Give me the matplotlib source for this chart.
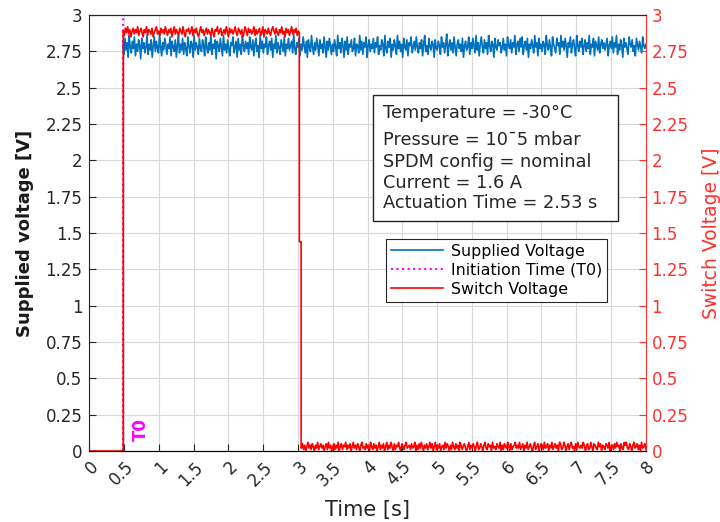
import numpy as np
import matplotlib
matplotlib.use("Agg")
import matplotlib.pyplot as plt
from matplotlib.patches import Rectangle

# ---- data ----
t0 = 0.478
sw_drop_t = 3.02
sw_mid_value = 1.44
sw_low_t = 3.05

supplied = [
2.79,2.73,2.84,2.76,2.81,2.71,2.86,2.78,2.74,2.82,2.77,2.85,2.72,2.80,2.75,2.83,2.79,2.70,2.84,2.77,
2.81,2.74,2.78,2.86,2.73,2.80,2.76,2.83,2.71,2.79,2.85,2.75,2.82,2.77,2.74,2.87,2.78,2.72,2.81,2.76,
2.84,2.79,2.73,2.80,2.77,2.85,2.72,2.82,2.78,2.75,2.83,2.71,2.79,2.86,2.74,2.80,2.76,2.84,2.73,2.81,
2.77,2.72,2.85,2.79,2.74,2.82,2.80,2.71,2.86,2.76,2.81,2.78,2.73,2.84,2.77,2.75,2.83,2.79,2.72,2.85,
2.78,2.74,2.81,2.76,2.87,2.73,2.80,2.77,2.83,2.70,2.82,2.79,2.75,2.84,2.78,2.72,2.86,2.76,2.80,2.74,
2.83,2.77,2.72,2.81,2.79,2.85,2.74,2.78,2.82,2.71,2.84,2.76,2.80,2.73,2.86,2.79,2.75,2.82,2.77,2.81,
2.73,2.85,2.78,2.76,2.83,2.72,2.80,2.84,2.75,2.79,2.71,2.86,2.77,2.82,2.74,2.80,2.78,2.85,2.73,2.79,
2.82,2.76,2.84,2.71,2.80,2.77,2.86,2.74,2.81,2.78,2.73,2.83,2.79,2.75,2.85,2.72,2.80,2.77,2.84,2.76,
2.79,2.82,2.74,2.87,2.77,2.73,2.81,2.78,2.84,2.72,2.80,2.76,2.85,2.79,2.74,2.82,2.71,2.83,2.78,2.75,
2.86,2.78,2.73,2.81,2.76,2.84,2.79,2.72,2.83,2.77,2.80,2.74,2.85,2.78,2.71,2.82,2.76,2.84,2.79,2.73,
2.80,2.75,2.83,2.78,2.72,2.86,2.77,2.81,2.74,2.84,2.79,2.71,2.82,2.76,2.85,2.73,2.80,2.78,2.83,2.75,
2.77,2.84,2.72,2.80,2.79,2.74,2.86,2.76,2.82,2.73,2.81,2.78,2.85,2.71,2.79,2.83,2.75,2.80,2.77,2.84,
2.74,2.81,2.78,2.85,2.73,2.79,2.76,2.83,2.80,2.72,2.86,2.77,2.74,2.82,2.78,2.84,2.71,2.80,2.76,2.83,
2.79,2.73,2.86,2.77,2.82,2.75,2.80,2.71,2.84,2.78,2.76,2.83,2.72,2.81,2.79,2.85,2.74,2.78,2.82,2.76,
2.85,2.78,2.74,2.81,2.77,2.83,2.72,2.80,2.86,2.75,2.79,2.73,2.84,2.78,2.76,2.82,2.80,2.71,2.83,2.77,
2.76,2.82,2.79,2.73,2.85,2.78,2.81,2.74,2.80,2.87,2.72,2.79,2.83,2.76,2.81,2.74,2.85,2.78,2.72,2.80,
2.83,2.77,2.80,2.75,2.84,2.71,2.79,2.82,2.76,2.78,2.85,2.73,2.81,2.77,2.84,2.79,2.74,2.86,2.76,2.81,
2.72,2.80,2.85,2.78,2.74,2.83,2.77,2.81,2.73,2.86,2.79,2.75,2.82,2.80,2.71,2.84,2.78,2.76,2.83,2.79,
2.81,2.74,2.78,2.84,2.76,2.80,2.72,2.85,2.79,2.77,2.83,2.74,2.81,2.78,2.86,2.73,2.80,2.82,2.75,2.84,
2.78,2.85,2.73,2.79,2.82,2.76,2.84,2.71,2.80,2.77,2.83,2.79,2.74,2.86,2.78,2.81,2.72,2.84,2.77,2.80,
2.75,2.82,2.80,2.73,2.86,2.79,2.76,2.83,2.78,2.72,2.85,2.80,2.77,2.74,2.84,2.79,2.81,2.73,2.86,2.78,
2.82,2.76,2.84,2.79,2.71,2.81,2.78,2.85,2.74,2.80,2.83,2.77,2.72,2.86,2.79,2.75,2.82,2.78,2.84,2.73,
2.79,2.83,2.75,2.81,2.77,2.86,2.73,2.80,2.78,2.84,2.72,2.82,2.79,2.76,2.85,2.74,2.80,2.83,2.77,2.81,
2.76,2.80,2.84,2.72,2.79,2.82,2.77,2.85,2.74,2.81,2.78,2.86,2.73,2.80,2.76,2.83,2.79,2.71,2.84,2.78,
2.81,2.77,2.73,2.85,2.80,2.78,2.83,2.75,2.79,2.72,2.84,2.80,2.76,2.82,2.78,2.74,2.85,2.79,2.77,2.80,
]

switch_high = [
2.89,2.86,2.91,2.88,2.92,2.87,2.90,2.85,2.89,2.91,2.87,2.90,2.88,2.92,2.86,2.89,2.91,2.88,2.85,2.90,
2.88,2.92,2.86,2.90,2.89,2.87,2.91,2.85,2.88,2.90,2.92,2.87,2.89,2.86,2.91,2.88,2.90,2.87,2.92,2.89,
2.86,2.90,2.88,2.91,2.85,2.89,2.92,2.87,2.90,2.88,2.86,2.91,2.89,2.87,2.92,2.88,2.85,2.90,2.89,2.91,
2.87,2.89,2.92,2.86,2.90,2.88,2.91,2.87,2.85,2.89,2.92,2.88,2.90,2.86,2.89,2.91,2.87,2.90,2.88,2.86,
2.91,2.88,2.85,2.90,2.89,2.92,2.87,2.89,2.91,2.86,2.88,2.90,2.87,2.92,2.89,2.85,2.91,2.88,2.90,2.87,
2.89,2.92,2.88,2.86,2.91,2.89,2.87,2.90,2.85,2.88,2.92,2.89,2.86,2.91,2.88,2.90,2.87,2.89,2.92,2.86,
2.90,2.87,2.89,2.91,2.86,2.88,2.92,2.85,2.90,2.89,2.87,2.91,2.88,2.86,2.90,2.92,2.89,2.87,2.91,2.88,
2.86,2.90,2.88,2.92,2.87,2.89,2.85,2.91,2.88,2.90,2.86,2.89,2.92,2.87,2.90,2.88,2.91,2.86,2.89,2.88,
]

switch_low = [
0.02,0.05,0.01,0.04,0.00,0.03,0.06,0.02,0.04,0.01,0.05,0.03,0.00,0.04,0.02,0.06,0.01,0.03,0.05,0.02,
0.04,0.00,0.03,0.05,0.01,0.06,0.02,0.04,0.00,0.03,0.05,0.01,0.04,0.02,0.06,0.00,0.03,0.05,0.01,0.04,
0.03,0.06,0.01,0.04,0.02,0.05,0.00,0.03,0.06,0.02,0.04,0.01,0.05,0.03,0.00,0.04,0.06,0.02,0.03,0.01,
0.05,0.02,0.04,0.00,0.06,0.03,0.01,0.05,0.02,0.04,0.00,0.03,0.06,0.01,0.04,0.02,0.05,0.00,0.03,0.06,
0.01,0.04,0.02,0.06,0.03,0.00,0.05,0.01,0.04,0.03,0.06,0.02,0.00,0.05,0.03,0.01,0.04,0.06,0.02,0.03,
0.04,0.01,0.05,0.02,0.03,0.06,0.00,0.04,0.01,0.05,0.02,0.06,0.03,0.00,0.04,0.02,0.05,0.01,0.03,0.06,
0.02,0.05,0.00,0.03,0.06,0.01,0.04,0.02,0.05,0.00,0.03,0.04,0.01,0.06,0.02,0.05,0.03,0.00,0.04,0.01,
0.06,0.03,0.01,0.05,0.02,0.04,0.00,0.06,0.03,0.01,0.04,0.05,0.02,0.00,0.03,0.06,0.01,0.04,0.02,0.05,
0.03,0.00,0.04,0.06,0.01,0.02,0.05,0.03,0.00,0.04,0.06,0.02,0.01,0.05,0.03,0.04,0.00,0.06,0.02,0.03,
0.01,0.05,0.03,0.02,0.06,0.00,0.04,0.01,0.05,0.03,0.02,0.06,0.04,0.00,0.05,0.01,0.03,0.04,0.06,0.02,
0.04,0.02,0.06,0.01,0.03,0.05,0.00,0.04,0.02,0.06,0.01,0.03,0.05,0.02,0.00,0.04,0.06,0.01,0.03,0.05,
0.00,0.03,0.05,0.04,0.01,0.06,0.02,0.03,0.05,0.00,0.04,0.02,0.06,0.01,0.03,0.05,0.02,0.04,0.00,0.06,
0.05,0.01,0.02,0.06,0.04,0.00,0.03,0.05,0.01,0.04,0.06,0.02,0.03,0.00,0.05,0.01,0.06,0.03,0.02,0.04,
0.02,0.06,0.04,0.00,0.03,0.05,0.01,0.02,0.06,0.03,0.00,0.05,0.04,0.02,0.01,0.06,0.03,0.05,0.00,0.04,
0.03,0.01,0.05,0.04,0.02,0.06,0.00,0.03,0.04,0.01,0.05,0.02,0.06,0.03,0.04,0.00,0.05,0.02,0.01,0.06,
0.04,0.06,0.02,0.01,0.05,0.03,0.00,0.04,0.06,0.02,0.03,0.05,0.01,0.04,0.00,0.06,0.02,0.03,0.05,0.01,
]

x_ticks = [0, 0.5, 1, 1.5, 2, 2.5, 3, 3.5, 4, 4.5, 5, 5.5, 6, 6.5, 7, 7.5, 8]
y_ticks = [0, 0.25, 0.5, 0.75, 1, 1.25, 1.5, 1.75, 2, 2.25, 2.5, 2.75, 3]

info_lines = ["Temperature = -30°C", "Pressure = 10ˉ5 mbar", "SPDM config = nominal",
              "Current = 1.6 A", "Actuation Time = 2.53 s"]

# ---- time bases (uniform sampling) ----
t_sup = np.linspace(t0 + 0.005, 8.0, len(supplied))
t_high = np.linspace(t0 + 0.01, sw_drop_t, len(switch_high))
t_low = np.linspace(sw_low_t, 8.0, len(switch_low))

sw_t = np.concatenate([[0, t0 + 0.01], t_high, [sw_drop_t, sw_low_t - 0.005, sw_low_t - 0.005], t_low])
sw_v = np.concatenate([[0, 0], switch_high, [sw_mid_value, sw_mid_value, switch_low[0]], switch_low])

fig = plt.figure(figsize=(7.2, 5.22), dpi=100)
ax = fig.add_axes([0.124, 0.136, 0.773, 0.835])
ax2 = ax.twinx()

blue = "#0072BD"
red = "#FF0000"
tick_red = "#FF3030"
dark = "#262626"

h1, = ax.plot(t_sup, supplied, color=blue, lw=1.2, label="Supplied Voltage")
h2, = ax.plot([t0, t0], [0, 3], color="#FF00FF", ls=":", lw=1.5, label="Initiation Time (T0)")
h3, = ax2.plot(sw_t, sw_v, color=red, lw=1.2, label="Switch Voltage")

for a in (ax, ax2):
    a.set_xlim(0, 8)
    a.set_ylim(0, 3)
    a.set_yticks(y_ticks)
    a.set_yticklabels([f"{v:g}" for v in y_ticks])

ax.set_xticks(x_ticks)
ax.set_xticklabels([f"{v:g}" for v in x_ticks], rotation=45, ha="right", rotation_mode="anchor")
ax.grid(True, color="#d8d8d8", lw=0.8)
ax.set_axisbelow(True)

ax.tick_params(labelsize=12, colors=dark, direction="in", length=5, pad=5)
ax2.tick_params(labelsize=12, colors=tick_red, direction="in", length=5, pad=4)
for s in ["left", "bottom", "top"]:
    ax.spines[s].set_color(dark)
ax2.spines["right"].set_color(tick_red)
ax2.spines["left"].set_visible(False)
ax2.spines["top"].set_color(dark)
ax.spines["right"].set_visible(False)

ax.set_xlabel("Time [s]", fontsize=15, color=dark, labelpad=8)
ax.set_ylabel("Supplied voltage [V]", fontsize=13, color="#1a1a1a", fontweight="bold", labelpad=8)
ax2.set_ylabel("Switch Voltage [V]", fontsize=13.5, color=tick_red, labelpad=10)

ax.text(0.74, 0.15, "T0", color="#FF00FF", rotation=90, fontsize=12, fontweight="bold",
        ha="center", va="center")

# info box
ax2.add_patch(Rectangle((0.510, 0.5275), 0.440, 0.289, transform=ax2.transAxes,
                        fc="white", ec=dark, lw=1, zorder=5))
line_y = [0.775, 0.713, 0.663, 0.615, 0.569]
for txt, yy in zip(info_lines, line_y):
    ax2.text(0.528, yy, txt, transform=ax2.transAxes, fontsize=12.8, ha="left", va="center",
             color=dark, zorder=6)

leg = ax2.legend(handles=[h1, h2, h3], loc="upper left", bbox_to_anchor=(0.533, 0.486),
                 fontsize=11.4, frameon=True, fancybox=False, framealpha=1,
                 edgecolor=dark, borderpad=0.3, labelspacing=0.25, handlelength=3.3,
                 handletextpad=0.5, borderaxespad=0)
leg.get_frame().set_linewidth(0.8)
leg.set_zorder(7)

fig.savefig("out.png", dpi=100)
